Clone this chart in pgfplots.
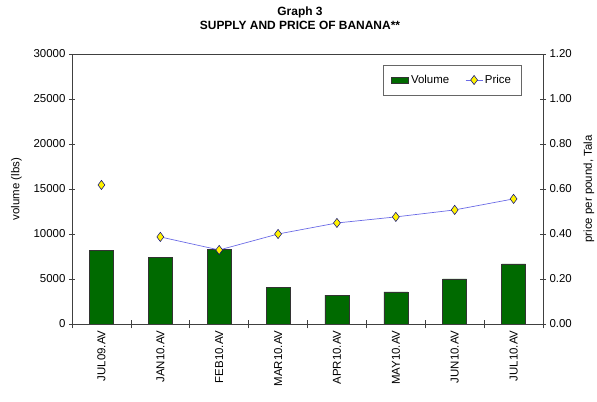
\documentclass[border=0pt]{standalone}
\usepackage{pgfplots}
\pgfplotsset{compat=1.18}
\usepackage{fontspec}
\setmainfont{Liberation Sans}
\definecolor{barfill}{HTML}{006A00}
\definecolor{priceline}{HTML}{6B6BE6}
\definecolor{axisgray}{HTML}{404040}

\pgfplotsset{
  common/.style={
    scale only axis, width=471bp, height=270bp,
    at={(0,0)}, anchor=south west,
    xmin=-0.5, xmax=7.5,
    tick align=center,
    font=\fontsize{11.5}{13.5}\selectfont,
    /pgf/number format/assume math mode=true,
    every tick/.style={axisgray, line width=0.6pt},
    ylabel shift=5bp,
  },
}

\begin{document}
\begin{tikzpicture}
\path[use as bounding box] (-72bp,-78bp) rectangle (525bp,324bp);

\begin{axis}[common,
  ymin=0, ymax=30000,
  ytick={0,5000,...,30000},
  scaled y ticks=false,
  yticklabel style={/pgf/number format/fixed, /pgf/number format/1000 sep={}},
  ytick pos=left,
  major tick length=6bp,
  xtick={0,...,7}, xtick pos=bottom,
  xticklabels={JUL09.AV,JAN10.AV,FEB10.AV,MAR10.AV,APR10.AV,MAY10.AV,JUN10.AV,JUL10.AV},
  xticklabel style={rotate=90, anchor=east},
  major x tick style={draw=none},
  minor xtick={-0.5,0.5,...,7.5},
  minor x tick style={axisgray, line width=0.6pt},
  minor tick length=9bp,
  axis line style={axisgray, line width=0.6pt},
  ylabel={volume (lbs)},
]
\addplot[ybar, bar width=24bp, bar shift=0pt, draw=black!80, line width=0.6pt, fill=barfill]
  coordinates {(0,8222) (1,7444) (2,8333) (3,4111) (4,3222) (5,3556) (6,5000) (7,6667)};
\end{axis}

\begin{axis}[common,
  ymin=0, ymax=1.2,
  ytick={0,0.2,...,1.2},
  yticklabel style={/pgf/number format/fixed, /pgf/number format/fixed zerofill, /pgf/number format/precision=2},
  axis y line*=right, axis x line=none,
  major tick length=6bp,
  axis line style={axisgray, line width=0.6pt},
  ylabel={price per pound, Tala},
  legend columns=2,
  legend style={at={(0.954,0.96)}, anchor=north east, draw=gray!80!black, line width=0.6pt,
    font=\fontsize{11.5}{13.5}\selectfont, inner xsep=8bp, inner ysep=8bp,
    /tikz/every even column/.style={column sep=14bp}},
]
\addlegendimage{area legend, draw=black!80, fill=barfill}
\addlegendentry{Volume}
\addplot[priceline, line width=0.7pt, mark=diamond*, mark size=4.6bp,
  mark options={fill=yellow, draw=blue!50!black, line width=0.5pt}, forget plot]
  coordinates {(0,0.618)};
\addplot[priceline, line width=0.7pt, mark=diamond*, mark size=4.6bp,
  mark options={fill=yellow, draw=blue!50!black, line width=0.5pt}]
  coordinates {(1,0.387) (2,0.329) (3,0.400) (4,0.449) (5,0.476) (6,0.507) (7,0.556)};
\addlegendentry{Price}
\end{axis}

\node[align=center, font=\fontsize{12}{14}\selectfont\bfseries] at (228bp,306bp) {Graph 3\\SUPPLY AND PRICE OF BANANA**};
\end{tikzpicture}
\end{document}
